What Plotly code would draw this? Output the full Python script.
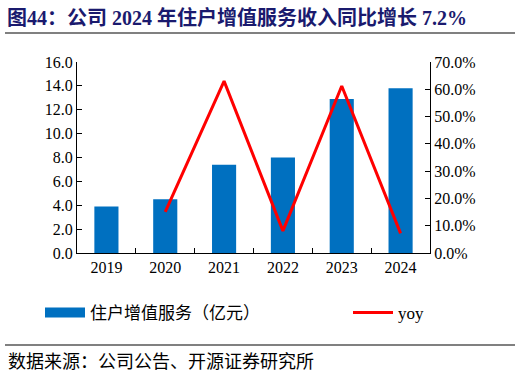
import plotly.graph_objects as go

years = ["2019", "2020", "2021", "2022", "2023", "2024"]
revenue = [3.9, 4.5, 7.4, 8.0, 12.9, 13.8]
yoy_years = ["2020", "2021", "2022", "2023", "2024"]
yoy = [0.151, 0.630, 0.081, 0.612, 0.072]

left_ticks = [0, 2, 4, 6, 8, 10, 12, 14, 16]
right_ticks = [0, 0.1, 0.2, 0.3, 0.4, 0.5, 0.6, 0.7]

W, H = 522, 377
L, R, T, B = 77, 430, 62, 253
pw, ph = R - L, B - T

def px(x):
    return (x - L) / pw

def py(y):
    return (B - y) / ph

serif = "Liberation Serif, Times New Roman, serif"
cjk = "Noto Sans CJK SC"
bar_name = "住户增值服务（亿元）"

fig = go.Figure()
fig.add_trace(go.Bar(x=years, y=revenue, name=bar_name, showlegend=False,
                     marker=dict(color="#0070C0", line=dict(width=0)), yaxis="y"))
# legend-only swatch for bars (wide rectangle like the reference)
fig.add_trace(go.Scatter(x=[None], y=[None], name=bar_name, mode="lines",
                         line=dict(color="#0070C0", width=10), yaxis="y", legend="legend"))
fig.add_trace(go.Scatter(x=yoy_years, y=yoy, name="yoy", mode="lines",
                         line=dict(color="#FF0000", width=3), yaxis="y2", legend="legend2"))

legend_common = dict(orientation="h", y=py(313), yanchor="middle", xanchor="left",
                     font=dict(family=serif + ", " + cjk, size=17, color="#000"),
                     itemwidth=40, bgcolor="rgba(0,0,0,0)")

fig.update_layout(
    width=W, height=H,
    margin=dict(l=L, r=W - R, t=T, b=H - B),
    paper_bgcolor="white", plot_bgcolor="white",
    bargap=0.59,
    showlegend=True,
    legend=dict(x=px(40), **legend_common),
    legend2=dict(x=px(348), **legend_common),
    xaxis=dict(type="category", showgrid=False, showline=True, linecolor="#000", linewidth=1,
               ticks="inside", tickson="boundaries", ticklen=5, tickcolor="#000",
               tickfont=dict(family=serif, size=16, color="#000")),
    yaxis=dict(range=[0, 16], tickvals=left_ticks, ticktext=[f"{v:.1f}" for v in left_ticks],
               showgrid=False, showline=True, linecolor="#000", linewidth=1, zeroline=False,
               ticks="inside", ticklen=5, tickcolor="#000",
               tickfont=dict(family=serif, size=16, color="#000")),
    yaxis2=dict(range=[0, 0.7], tickvals=right_ticks, ticktext=[f"{v*100:.1f}%" for v in right_ticks],
                overlaying="y", side="right", showgrid=False, showline=True, linecolor="#000",
                linewidth=1, zeroline=False, ticks="inside", ticklen=5, tickcolor="#000",
                tickfont=dict(family=serif, size=16, color="#000")),
    annotations=[
        dict(text="<b>图44：公司 2024 年住户增值服务收入同比增长 7.2%</b>", xref="paper", yref="paper",
             x=px(5), y=py(17), xanchor="left", yanchor="middle", showarrow=False,
             font=dict(family=serif + ", " + cjk, size=20, color="#1A1A6E")),
        dict(text="数据来源：公司公告、开源证券研究所", xref="paper", yref="paper",
             x=px(6), y=py(360), xanchor="left", yanchor="middle", showarrow=False,
             font=dict(family=cjk, size=18, color="#000")),
    ],
    shapes=[
        dict(type="line", xref="paper", yref="paper", x0=px(5), x1=px(515), y0=py(33), y1=py(33),
             line=dict(color="#808080", width=2)),
        dict(type="line", xref="paper", yref="paper", x0=px(5), x1=px(515), y0=py(345), y1=py(345),
             line=dict(color="#808080", width=2)),
    ],
)

fig.write_html("out.html", config={"displayModeBar": False},
               post_script="document.body.style.margin='0';")
